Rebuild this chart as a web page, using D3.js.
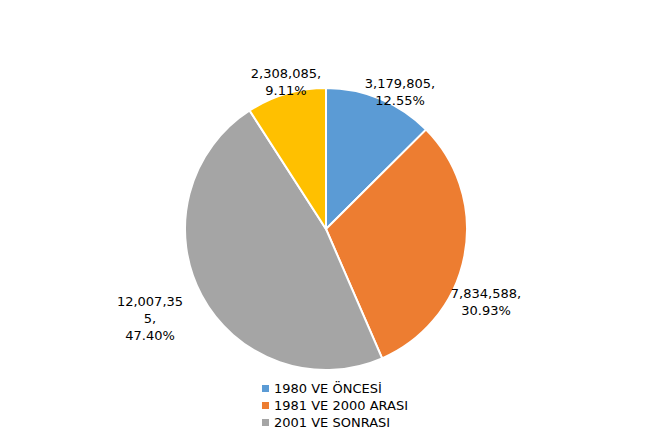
<!DOCTYPE html><html><head><script src="https://cdn.jsdelivr.net/npm/d3@7"></script>
<style>body{margin:0;background:#fff}text{font-family:"DejaVu Sans",Verdana,sans-serif;font-size:13px;fill:#000}</style></head><body>
<svg id="c" width="658" height="442"></svg>
<script>
const categories=["1980 VE ÖNCESİ","1981 VE 2000 ARASI","2001 VE SONRASI","OTHER"];
const values=[3179805,7834588,12007355,2308085];
const percents=["12.55%","30.93%","47.40%","9.11%"];
const valueLabels=[["3,179,805,","12.55%"],["7,834,588,","30.93%"],["12,007,35","5,","47.40%"],["2,308,085,","9.11%"]];
const colors=["#5b9bd5","#ed7d31","#a5a5a5","#ffc000"];
const labelPos=[[400,88],[486,298],[150,306],[286,78]];
const svg=d3.select("#c");
const cx=326,cy=229,r=141;
const pie=d3.pie().sort(null)(values);
const arc=d3.arc().innerRadius(0).outerRadius(r);
const g=svg.append("g").attr("transform",`translate(${cx},${cy})`);
g.selectAll("path").data(pie).join("path").attr("d",arc).attr("fill",(d,i)=>colors[i]).attr("stroke","#fff").attr("stroke-width",2);
valueLabels.forEach((lines,i)=>{
  const t=svg.append("text").attr("text-anchor","middle");
  lines.forEach((l,j)=>t.append("tspan").attr("x",labelPos[i][0]).attr("y",labelPos[i][1]+j*17).text(l));
});
const lg=svg.append("g");
categories.slice(0,3).forEach((c,i)=>{
  lg.append("rect").attr("x",262).attr("y",385+i*17).attr("width",7).attr("height",7).attr("fill",colors[i]);
  lg.append("text").attr("x",274).attr("y",393+i*17).text(c);
});
</script></body></html>
